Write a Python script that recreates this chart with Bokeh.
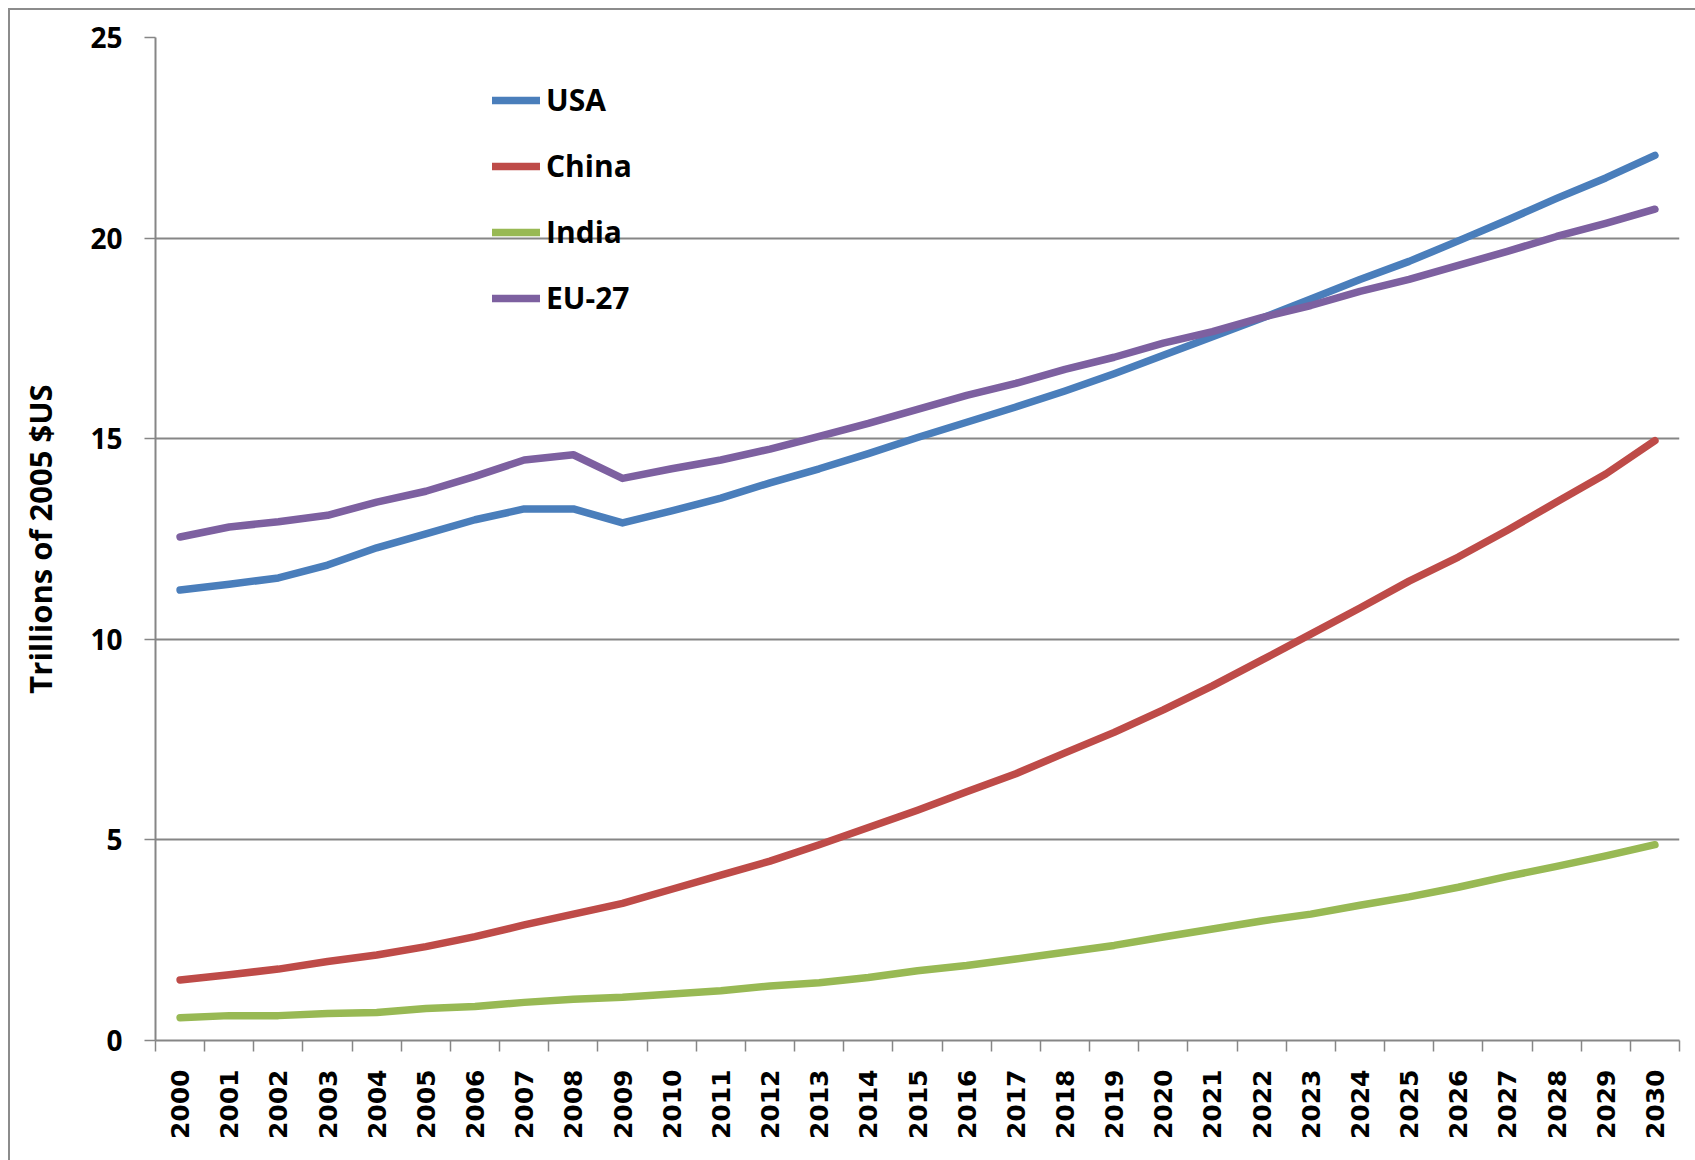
from bokeh.plotting import figure
from bokeh.models import Range1d, FixedTicker, Legend, LegendItem
from bokeh.embed import file_html
from bokeh.resources import INLINE
import math

years = list(range(2000, 2031))

usa = [11.23, 11.37, 11.53, 11.85, 12.28, 12.63, 12.98, 13.25, 13.25, 12.90,
       13.20, 13.52, 13.90, 14.25, 14.63, 15.03, 15.41, 15.79, 16.19, 16.62,
       17.08, 17.54, 18.00, 18.48, 18.97, 19.42, 19.93, 20.45, 20.99, 21.50, 22.06]
china = [1.51, 1.64, 1.78, 1.97, 2.13, 2.34, 2.59, 2.88, 3.15, 3.42,
         3.77, 4.12, 4.47, 4.88, 5.31, 5.74, 6.20, 6.65, 7.17, 7.68,
         8.24, 8.84, 9.48, 10.13, 10.78, 11.45, 12.05, 12.72, 13.42, 14.12, 14.95]
india = [0.57, 0.62, 0.62, 0.67, 0.70, 0.80, 0.85, 0.95, 1.03, 1.08,
         1.16, 1.24, 1.36, 1.44, 1.57, 1.74, 1.87, 2.03, 2.20, 2.37,
         2.58, 2.78, 2.98, 3.15, 3.37, 3.58, 3.82, 4.09, 4.34, 4.60, 4.88]
eu27 = [12.55, 12.80, 12.93, 13.09, 13.42, 13.69, 14.06, 14.47, 14.60, 14.01,
        14.25, 14.47, 14.74, 15.06, 15.38, 15.73, 16.08, 16.38, 16.73, 17.03,
        17.38, 17.67, 18.02, 18.32, 18.67, 18.97, 19.32, 19.67, 20.04, 20.37, 20.72]

series_names = ["USA", "China", "India", "EU-27"]
series_values = [usa, china, india, eu27]
series_colors = ["#4A7EBB", "#BE4B48", "#98B954", "#7D60A0"]

y_ticks = [0, 5, 10, 15, 20, 25]
y_label = "Trillions of 2005 $US"

W, H = 1695, 1160
p = figure(width=W, height=H, output_backend="svg", toolbar_location=None,
           x_range=Range1d(years[0] - 0.5, years[-1] + 0.5),
           y_range=Range1d(0, 25),
           min_border_left=155, min_border_right=16,
           min_border_top=37, min_border_bottom=120)

p.background_fill_alpha = 0
p.border_fill_alpha = 0
p.outline_line_color = None
p.styles = {
    "background": "linear-gradient(#8c8c8c,#8c8c8c) 8px 8px / 2px 100% no-repeat, "
                  "linear-gradient(#8c8c8c,#8c8c8c) 8px 8px / 100% 2px no-repeat, white"
}

gray = "#868686"

# x axis
p.xaxis.ticker = FixedTicker(ticks=years, minor_ticks=[y - 0.5 for y in years] + [years[-1] + 0.5])
p.xaxis.major_tick_out = 0
p.xaxis.major_tick_in = 0
p.xaxis.minor_tick_out = 11
p.xaxis.minor_tick_in = 0
p.xaxis.minor_tick_line_color = gray
p.xaxis.minor_tick_line_width = 1.5
p.xaxis.axis_line_color = gray
p.xaxis.axis_line_width = 2
p.xaxis.major_label_orientation = math.pi / 2
p.xaxis.major_label_text_font = "DejaVu Sans"
p.xaxis.major_label_text_font_style = "bold"
p.xaxis.major_label_text_font_size = "25px"
p.xaxis.major_label_text_color = "black"
p.xaxis.major_label_standoff = 18
p.xgrid.grid_line_color = None

# y axis
p.yaxis.ticker = FixedTicker(ticks=y_ticks)
p.yaxis.minor_tick_line_color = None
p.yaxis.major_tick_out = 11
p.yaxis.major_tick_in = 0
p.yaxis.major_tick_line_color = gray
p.yaxis.major_tick_line_width = 1.5
p.yaxis.axis_line_color = gray
p.yaxis.axis_line_width = 2
p.yaxis.major_label_text_font = "Open Sans"
p.yaxis.major_label_text_font_style = "bold"
p.yaxis.major_label_text_font_size = "28px"
p.yaxis.major_label_text_color = "black"
p.yaxis.major_label_standoff = 22
p.yaxis.axis_label = y_label
p.yaxis.axis_label_text_font = "Open Sans"
p.yaxis.axis_label_text_font_style = "bold"
p.yaxis.axis_label_text_font_size = "31px"
p.yaxis.axis_label_text_color = "black"
p.yaxis.axis_label_standoff = 26
p.ygrid.ticker = FixedTicker(ticks=y_ticks)
p.ygrid.grid_line_color = gray
p.ygrid.grid_line_width = 2

items = []
for name, vals, col in zip(series_names, series_values, series_colors):
    r = p.line(years, vals, line_color=col, line_width=7.5, line_cap="round", line_join="round")
    items.append(LegendItem(label=name, renderers=[r]))

legend = Legend(items=items, location=(337, 722))
legend.background_fill_alpha = 0
legend.border_line_color = None
legend.padding = 0
legend.margin = 0
legend.glyph_width = 48
legend.glyph_height = 30
legend.label_height = 30
legend.spacing = 25
legend.label_standoff = 6
legend.label_text_font = "Open Sans"
legend.label_text_font_style = "bold"
legend.label_text_font_size = "30px"
legend.label_text_color = "black"
p.add_layout(legend)

open("out.html", "w").write(file_html(p, INLINE))
